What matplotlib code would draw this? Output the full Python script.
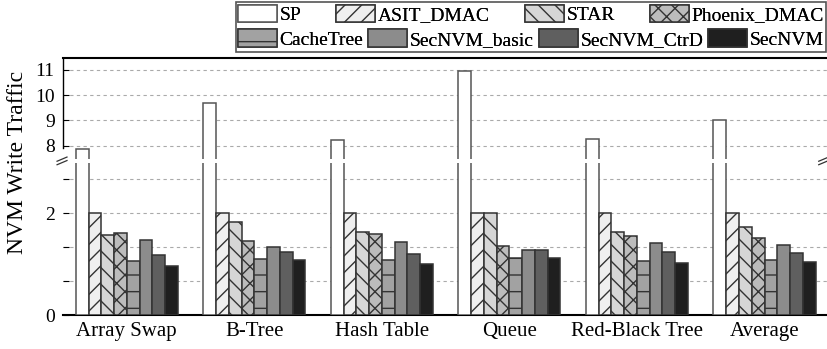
import matplotlib.pyplot as plt
import numpy as np
from matplotlib.lines import Line2D
from matplotlib.patches import Rectangle

plt.rcParams['font.family'] = ['Liberation Serif', 'DejaVu Serif']
plt.rcParams['hatch.linewidth'] = 1.0

workloads = ['Array Swap', 'B-Tree', 'Hash Table', 'Queue', 'Red-Black Tree', 'Average']
schemes = ['SP', 'ASIT_DMAC', 'STAR', 'Phoenix_DMAC',
           'CacheTree', 'SecNVM_basic', 'SecNVM_CtrD', 'SecNVM']

sp = [7.86, 9.68, 8.24, 10.95, 8.27, 9.0]
asit = [2.0, 2.0, 2.0, 2.0, 2.0, 2.0]
star = [1.57, 1.82, 1.63, 2.0, 1.63, 1.72]
phoenix = [1.61, 1.46, 1.59, 1.36, 1.56, 1.52]
cachetree = [1.07, 1.10, 1.08, 1.12, 1.07, 1.08]
secnvm_basic = [1.47, 1.34, 1.43, 1.27, 1.42, 1.38]
secnvm_ctrd = [1.17, 1.23, 1.19, 1.27, 1.24, 1.21]
secnvm = [0.97, 1.08, 1.00, 1.13, 1.03, 1.04]

series = [sp, asit, star, phoenix, cachetree, secnvm_basic, secnvm_ctrd, secnvm]
colors = ['white', '#efefef', '#d6d6d6', '#bcbcbc', '#a2a2a2', '#8c8c8c', '#5f5f5f', '#1f1f1f']
hatches = ['', '//', '\\\\', 'xx', '-', '', '', '']

fig = plt.figure(figsize=(8.27, 3.49), dpi=100)
ax_hi = fig.add_axes([0.0762, 0.544, 0.9238, 0.291])
ax_lo = fig.add_axes([0.0762, 0.0974, 0.9238, 0.436])

x = np.arange(len(workloads))
w = 0.1
handles = []
for ax in (ax_hi, ax_lo):
    for i, (vals, c, h) in enumerate(zip(series, colors, hatches)):
        ec = '#555555' if i == 0 else '#333333'
        b = ax.bar(x - 0.35 + i * w, vals, w, color=c, edgecolor=ec,
                   hatch=h, linewidth=1.1, zorder=3, label=schemes[i])
        if ax is ax_lo:
            handles.append(b)
    ax.set_xlim(-0.5, 5.49)
    ax.grid(axis='y', color='#aaaaaa', linestyle=(0, (3, 3)), linewidth=0.8, zorder=0)
    ax.tick_params(axis='y', direction='in', length=4, labelsize=14, pad=6)
    ax.spines['right'].set_visible(False)

ax_hi.set_ylim(7.47, 11.49)
ax_hi.set_yticks([8, 9, 10, 11])
ax_hi.set_xticks([])
ax_hi.spines['bottom'].set_visible(False)
ax_hi.spines['top'].set_linewidth(1.5)
ax_hi.spines['left'].set_bounds(7.9, 11.49)
ax_hi.spines['left'].set_linewidth(1.0)

ax_lo.set_ylim(0, 2.99)
ax_lo.set_yticks([0, 2 / 3, 4 / 3, 2, 8 / 3])
ax_lo.set_yticklabels(['0', '', '', '2', ''])
ax_lo.spines['top'].set_visible(False)
ax_lo.spines['left'].set_visible(False)
ax_lo.spines['bottom'].set_linewidth(1.5)
ax_lo.set_xticks(x)
ax_lo.set_xticklabels(workloads, fontsize=15)
ax_lo.tick_params(axis='x', length=0, pad=5)

fig.text(0.021, 0.535, 'NVM Write Traffic', rotation=90, fontsize=17,
         ha='center', va='center')

# axis break marks
for x0 in (0.069, 0.990):
    for dy in (0.0, 0.010):
        fig.add_artist(Line2D([x0, x0 + 0.012], [0.528 + dy, 0.540 + dy],
                              color='#333333', linewidth=0.9))

# legend: two justified rows inside one frame
lx, lw_ = 236 / 827, 590 / 827
rows = [([0, 1, 2, 3], 1 - 27 / 349, 25 / 349), ([4, 5, 6, 7], 1 - 51 / 349, 24 / 349)]
for idx, y0, hgt in rows:
    leg = fig.legend([handles[k] for k in idx], [schemes[k] for k in idx],
                     ncol=4, mode='expand', loc='center',
                     bbox_to_anchor=(lx, y0, lw_, hgt), frameon=False,
                     fontsize=14, handlelength=2.0, handleheight=1.0,
                     handletextpad=0.15, borderpad=0.1, borderaxespad=0.0)
    fig.add_artist(leg)
fig.add_artist(Rectangle((lx, 1 - 52 / 349), lw_, 50 / 349, transform=fig.transFigure,
                         fill=False, edgecolor='#555555', linewidth=1.2))

fig.savefig('out.png', dpi=100)
